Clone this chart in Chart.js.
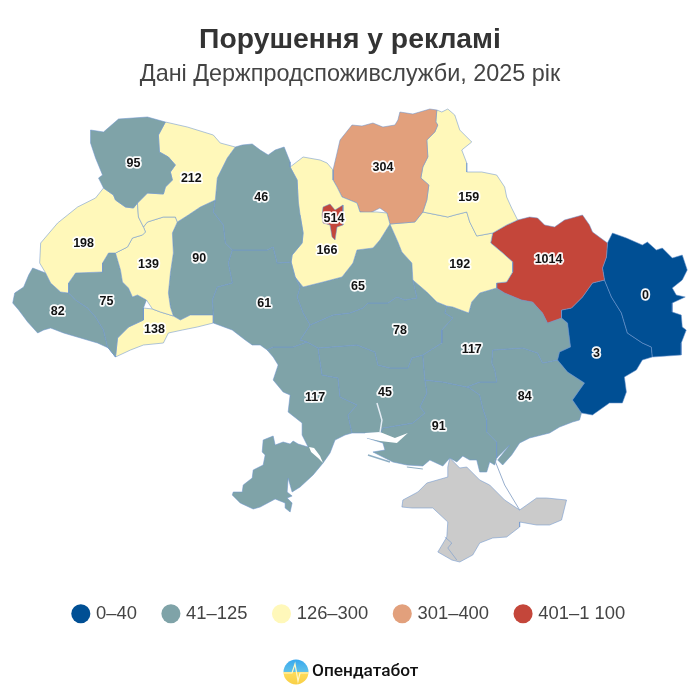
<!DOCTYPE html>
<html lang="uk">
<head>
<meta charset="utf-8">
<title>Порушення у рекламі</title>
<script src="https://cdn.jsdelivr.net/npm/chart.js@4"></script>
<style>html,body{margin:0;padding:0;background:#fff}canvas{display:block}</style>
</head>
<body>
<canvas id="c" width="700" height="700"></canvas>
<script>
const titleText = 'Порушення у рекламі';
const subtitleText = 'Дані Держпродспоживслужби, 2025 рік';
const brandText = 'Опендатабот';
const binLabels = ['0–40', '41–125', '126–300', '301–400', '401–1 100'];
const binMax = [40, 125, 300, 400, 1100];
const binColors = ['#004F94', '#7FA3A8', '#FFF8BA', '#E2A07C', '#C4463A'];

const regionNames = ['Київ','Волинська','Рівненська','Львівська','Тернопільська','Івано-Франківська','Закарпатська','Чернівецька','Хмельницька','Житомирська','Вінницька','Київська','Чернігівська','Сумська','Полтавська','Харківська','Луганська','Донецька','Черкаська','Кіровоградська','Дніпропетровська','Запорізька','Миколаївська','Одеська','Херсонська'];
const regionValues = [514,95,212,198,139,75,82,138,90,46,61,166,304,159,192,1014,0,3,65,78,117,84,45,117,91];
const labelX = [334,133,191,83,148,106,57,154,199,261,264,327,383,469,460,549,646,597,358,400,472,525,385,315,439];
const labelY = [219,164,179,244,265,302,312,330,259,198,304,251,168,198,265,260,296,354,287,331,350,397,393,398,427];

const kyivCity = [[323,207],[330,204],[335,210],[343,205],[343,215],[343,225],[337,227],[335,240],[332,237],[330,225],[323,223],[322,215]];
const volyn = [[90,130],[103,132],[118,119],[147,117],[165,122],[158,135],[159,152],[168,157],[175,165],[170,172],[172,180],[165,187],[163,194],[147,193],[137,203],[133,208],[125,207],[115,200],[113,195],[103,188],[98,178],[102,175],[95,158],[90,143]];
const rivne = [[165,122],[187,127],[213,135],[220,143],[235,147],[227,158],[217,178],[215,200],[200,207],[188,215],[177,222],[175,217],[163,217],[147,222],[143,227],[138,217],[137,203],[147,193],[163,194],[165,187],[172,180],[170,172],[175,165],[168,157],[159,152],[158,135]];
const lviv = [[103,188],[113,195],[115,200],[125,207],[133,208],[137,203],[138,217],[143,227],[145,232],[142,235],[132,238],[127,247],[115,253],[108,253],[102,263],[102,272],[75,273],[68,283],[68,293],[60,292],[50,283],[45,273],[39,263],[40,243],[57,223],[77,207],[95,198]];
const ternopil = [[143,227],[147,222],[163,217],[175,217],[177,222],[172,233],[173,253],[170,273],[168,293],[170,307],[173,316],[160,312],[152,309],[146,300],[137,295],[132,297],[128,288],[122,282],[120,270],[115,253],[127,247],[132,238],[142,235],[145,232]];
const frankivsk = [[108,253],[115,253],[120,270],[122,282],[128,288],[132,297],[137,295],[146,300],[143,308],[143,320],[128,327],[117,338],[115,357],[107,347],[103,330],[95,317],[87,308],[75,300],[68,293],[68,283],[75,273],[102,272],[102,263]];
const zakarpattia = [[32,268],[45,273],[50,283],[60,292],[68,293],[75,300],[87,308],[95,317],[103,330],[107,347],[115,357],[108,348],[97,343],[80,338],[63,333],[50,328],[43,330],[37,333],[27,322],[18,310],[12,303],[14,293],[23,287],[28,275]];
const chernivtsi = [[143,308],[152,309],[160,312],[173,316],[180,320],[190,315],[213,315],[213,323],[197,327],[182,330],[168,333],[163,343],[143,345],[130,350],[115,357],[117,338],[128,327],[143,320]];
const khmelnytskyi = [[177,222],[188,215],[200,207],[215,200],[213,212],[223,225],[225,243],[232,250],[228,263],[232,283],[217,287],[212,300],[213,315],[190,315],[180,320],[173,316],[170,307],[168,293],[170,273],[173,253],[172,233]];
const zhytomyr = [[235,147],[242,145],[252,144],[260,150],[268,155],[275,150],[284,147],[290,162],[290,167],[297,180],[298,200],[300,215],[303,233],[302,243],[292,255],[291,262],[277,263],[273,247],[267,250],[232,250],[225,243],[223,225],[213,212],[215,200],[217,178],[227,158]];
const vinnytsia = [[232,250],[267,250],[273,247],[277,263],[291,262],[295,277],[300,287],[297,297],[303,313],[310,325],[300,340],[307,342],[293,347],[273,347],[267,350],[260,345],[252,345],[245,340],[232,330],[213,323],[213,315],[212,300],[217,287],[232,283],[228,263]];
const kyivObl = [[290,167],[303,157],[320,160],[327,163],[333,170],[333,180],[337,187],[342,197],[357,203],[360,212],[377,212],[387,213],[390,224],[380,240],[373,248],[357,250],[353,263],[342,277],[323,282],[303,287],[295,277],[291,262],[292,255],[302,243],[303,233],[300,215],[295,215],[298,200],[297,180]];
const chernihiv = [[400,112],[413,114],[430,109],[437,110],[436,122],[438,125],[435,132],[427,140],[428,157],[423,167],[421,178],[429,185],[427,200],[423,212],[415,222],[390,224],[387,213],[380,208],[370,213],[360,212],[357,203],[342,197],[337,187],[333,180],[333,170],[337,153],[340,140],[352,125],[362,126],[373,123],[383,127],[395,125],[398,120]];
const sumy = [[437,110],[442,112],[448,109],[455,115],[460,130],[472,142],[462,150],[467,163],[467,172],[482,172],[497,175],[505,187],[507,197],[512,208],[518,220],[507,225],[493,233],[477,236],[470,222],[467,212],[455,215],[448,217],[423,212],[427,200],[429,185],[421,178],[423,167],[428,157],[427,140],[435,132],[438,125],[436,122]];
const poltava = [[390,224],[415,222],[423,212],[448,217],[455,215],[467,212],[470,222],[477,236],[493,233],[491,243],[503,253],[513,262],[513,272],[507,282],[497,283],[497,288],[480,293],[472,302],[469,313],[453,307],[447,306],[437,302],[427,292],[413,280],[412,263],[402,252],[398,242]];
const kharkiv = [[493,233],[507,225],[518,220],[530,217],[538,218],[545,225],[555,227],[565,220],[583,215],[590,225],[593,232],[608,243],[607,257],[603,268],[605,280],[593,283],[583,297],[572,308],[562,310],[562,318],[548,323],[543,313],[533,302],[522,300],[505,293],[497,288],[497,283],[507,282],[513,272],[513,262],[503,253],[491,243]];
const luhansk = [[608,243],[613,233],[627,238],[643,245],[648,242],[657,250],[663,248],[673,258],[683,255],[688,270],[683,280],[673,288],[677,295],[686,297],[673,303],[673,312],[682,315],[683,327],[687,330],[682,343],[682,355],[653,357],[652,347],[643,343],[628,333],[622,313],[612,297],[605,280],[603,268],[607,257]];
const donetsk = [[593,283],[605,280],[612,297],[622,313],[628,333],[643,343],[652,347],[653,357],[643,360],[637,370],[625,377],[627,392],[623,403],[610,403],[593,415],[582,413],[573,400],[585,383],[568,372],[558,360],[560,352],[571,347],[568,323],[562,318],[562,310],[572,308],[583,297]];
const cherkasy = [[303,287],[323,282],[342,277],[353,263],[357,250],[373,248],[380,240],[390,224],[398,242],[402,252],[412,263],[413,280],[417,298],[405,300],[397,297],[388,303],[368,303],[363,308],[350,313],[333,315],[310,325],[303,313],[297,297],[300,287],[295,277]];
const kirovohrad = [[413,280],[427,292],[437,302],[447,306],[445,313],[453,318],[442,330],[442,343],[423,355],[412,358],[408,368],[390,368],[378,365],[375,352],[357,345],[318,348],[307,342],[300,340],[310,325],[333,315],[350,313],[363,308],[368,303],[388,303],[397,297],[405,300],[417,298]];
const dnipro = [[447,306],[453,307],[469,313],[472,302],[480,293],[497,288],[505,293],[522,300],[533,302],[543,313],[548,323],[562,318],[568,323],[571,347],[560,352],[558,360],[543,363],[538,353],[523,348],[493,350],[492,363],[495,370],[497,382],[480,382],[467,387],[443,382],[425,380],[423,355],[442,343],[442,330],[453,318],[445,313]];
const zaporizhzhia = [[558,360],[568,372],[585,383],[573,400],[582,413],[580,420],[573,422],[560,427],[550,433],[530,438],[520,443],[512,455],[503,465],[498,460],[510,445],[497,458],[497,442],[487,432],[487,420],[483,408],[480,395],[470,388],[467,387],[480,382],[497,382],[495,370],[492,363],[493,350],[523,348],[538,353],[543,363]];
const mykolaiv = [[318,348],[357,345],[375,352],[378,365],[390,368],[408,368],[412,358],[423,355],[425,380],[427,393],[420,407],[425,413],[413,423],[383,428],[381,433],[365,433],[352,433],[348,415],[357,405],[340,397],[338,378],[322,375]];
const odesa = [[307,342],[318,348],[322,375],[338,378],[340,397],[357,405],[348,415],[352,433],[345,435],[335,440],[330,453],[323,463],[313,475],[300,487],[292,492],[288,478],[287,492],[292,496],[287,498],[292,503],[290,512],[285,508],[285,503],[275,499],[260,507],[253,509],[240,503],[232,495],[233,492],[242,492],[243,485],[252,478],[253,470],[263,465],[265,455],[262,452],[263,440],[273,436],[275,445],[283,442],[290,444],[293,441],[298,444],[308,447],[302,435],[302,423],[288,412],[290,395],[283,392],[273,380],[278,365],[273,357],[267,350],[273,347],[293,347]];
const kherson = [[425,380],[443,382],[467,387],[470,388],[480,395],[483,408],[487,420],[487,432],[497,442],[497,458],[495,465],[490,462],[487,472],[480,472],[477,460],[470,460],[463,456],[457,462],[450,458],[443,466],[430,460],[423,466],[407,465],[393,462],[373,452],[385,450],[383,443],[367,438],[380,433],[383,428],[413,423],[425,413],[420,407],[427,393]];
const regionShapes = [kyivCity,volyn,rivne,lviv,ternopil,frankivsk,zakarpattia,chernivtsi,khmelnytskyi,zhytomyr,vinnytsia,kyivObl,chernihiv,sumy,poltava,kharkiv,luhansk,donetsk,cherkasy,kirovohrad,dnipro,zaporizhzhia,mykolaiv,odesa,kherson];

const crimea = [[450,458],[460,468],[467,467],[480,480],[490,485],[505,500],[520,510],[537,498],[547,498],[567,500],[562,520],[550,525],[537,525],[520,522],[520,527],[507,537],[493,538],[480,543],[473,555],[460,562],[452,560],[438,552],[447,537],[448,522],[433,508],[412,508],[402,507],[403,500],[418,492],[427,483],[448,477],[448,467]];
const dniproEstuary = [[365,433],[380,432],[395,438],[408,433],[397,443],[380,441],[367,438]];
const dniesterEstuary = [[309,447],[314,448],[320,456],[323,463],[318,458],[311,452]];
const bugRiver = [[377,403],[380,413],[382,420],[380,433]];
const tendraSpit = [[368,455],[390,462]];
const dzharylhachSpit = [[407,467],[423,469]];
const arabatSpit = [[495,460],[505,485],[520,510]];
const sevastopolLine = [[445,537],[452,543],[448,548],[457,560]];

const EDGE = 'rgba(110,150,205,0.55)';
const pts = a => a.map(p => ({x: p[0], y: p[1]}));
const closed = a => pts(a.concat([a[0]]));
const colorOf = v => binColors[binMax.findIndex(m => v <= m)];
const shape = (label, a, color, edge) => ({label, data: closed(a), showLine: true, fill: 'shape', backgroundColor: color, borderColor: edge, borderWidth: 1, pointRadius: 0, tension: 0});
const line = (label, a, color, w) => ({label, data: pts(a), showLine: true, fill: false, borderColor: color, borderWidth: w, pointRadius: 0, tension: 0});

const datasets = [
  line('Севастополь', sevastopolLine, EDGE, 1),
  line('Арабатська стрілка', arabatSpit, 'rgba(140,165,200,0.9)', 1),
  line('Тендрівська коса', tendraSpit, 'rgba(130,165,190,0.9)', 1.5),
  line('Джарилгач', dzharylhachSpit, 'rgba(130,165,190,0.9)', 1),
  line('Південний Буг', bugRiver, '#E4ECF4', 1.5),
  shape('Дніпровський лиман', dniproEstuary, '#ffffff', 'rgba(255,255,255,0)'),
  shape('Дністровський лиман', dniesterEstuary, '#ffffff', 'rgba(255,255,255,0)')
];
regionShapes.forEach((a, i) => datasets.push(shape(regionNames[i], a, colorOf(regionValues[i]), EDGE)));
datasets.push(shape('Крим', crimea, '#CBCBCB', EDGE));

const valueLabels = {
  id: 'valueLabels',
  afterDatasetsDraw(chart) {
    const {ctx, scales: {x, y}} = chart;
    ctx.save();
    ctx.font = 'bold 12.5px "Liberation Sans", Arial, sans-serif';
    ctx.textAlign = 'center';
    ctx.textBaseline = 'middle';
    ctx.lineJoin = 'round';
    regionValues.forEach((v, i) => {
      const px = x.getPixelForValue(labelX[i]), py = y.getPixelForValue(labelY[i]);
      ctx.lineWidth = 3.5;
      ctx.strokeStyle = 'rgba(255,255,255,0.95)';
      ctx.strokeText(String(v), px, py);
      ctx.fillStyle = '#111';
      ctx.fillText(String(v), px, py);
    });
    ctx.restore();
  }
};
const brand = {
  id: 'brand',
  afterDraw(chart) {
    const ctx = chart.ctx;
    ctx.save();
    const g = ctx.createLinearGradient(0, 659, 0, 685);
    g.addColorStop(0, '#35A7F0'); g.addColorStop(0.48, '#5FC0E8'); g.addColorStop(0.52, '#FFDC5A'); g.addColorStop(1, '#F8CF45');
    ctx.fillStyle = g;
    ctx.beginPath(); ctx.arc(296, 672, 12.5, 0, Math.PI * 2); ctx.fill();
    ctx.strokeStyle = '#fff8c8'; ctx.lineWidth = 1.2;
    ctx.beginPath(); ctx.moveTo(284,673); ctx.lineTo(292,673); ctx.lineTo(295,664); ctx.lineTo(298,681); ctx.lineTo(300,673); ctx.lineTo(308,673); ctx.stroke();
    ctx.fillStyle = '#111';
    ctx.font = '500 17.3px Roboto, sans-serif';
    ctx.textAlign = 'left'; ctx.textBaseline = 'middle';
    ctx.fillText(brandText, 312, 672);
    ctx.restore();
  }
};

const chart = new Chart(document.getElementById('c'), {
  type: 'scatter',
  data: {datasets},
  plugins: [valueLabels, brand],
  options: {
    responsive: false, animation: false, events: [],
    layout: {padding: {top: 0, left: 0, right: 0, bottom: 67}},
    scales: {
      x: {type: 'linear', display: false, min: 0, max: 700},
      y: {type: 'linear', display: false, reverse: true, min: 0, max: 700}
    },
    plugins: {
      tooltip: {enabled: false},
      title: {display: true, text: titleText, color: '#333', font: {family: '"Liberation Sans", Arial, sans-serif', size: 28.3, weight: 'bold', lineHeight: 1.2}, padding: {top: 23, bottom: 4}},
      subtitle: {display: true, text: subtitleText, color: '#444', font: {family: '"Liberation Sans", Arial, sans-serif', size: 23.4, weight: 'normal', lineHeight: 1.2}, padding: {top: 0, bottom: 8}},
      legend: {
        display: true, position: 'bottom',
        labels: {
          usePointStyle: true, pointStyle: 'circle', boxWidth: 12, boxHeight: 13.5,
          color: '#444', padding: 28,
          font: {family: '"Liberation Sans", Arial, sans-serif', size: 18.4},
          generateLabels: () => binLabels.map((t, i) => ({text: t, fillStyle: binColors[i], strokeStyle: binColors[i], lineWidth: 0, pointStyle: 'circle', fontColor: '#444', hidden: false, datasetIndex: 0}))
        }
      }
    }
  }
});
const a = chart.chartArea;
chart.options.scales.x.min = a.left; chart.options.scales.x.max = a.right;
chart.options.scales.y.min = a.top; chart.options.scales.y.max = a.bottom;
chart.update('none');
</script>
</body>
</html>
